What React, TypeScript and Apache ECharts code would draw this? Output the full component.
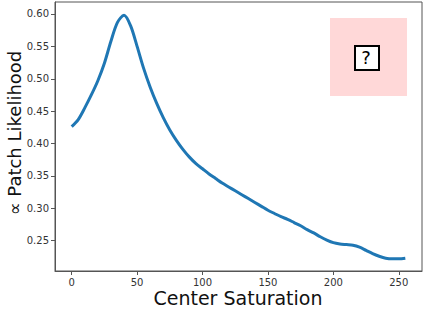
import React, { useEffect, useRef } from "react";
import * as echarts from "echarts";

const xValues = [0,5,10,15,20,25,30,35,40,45,50,55,60,65,70,75,80,85,90,95,100,105,110,115,120,125,130,135,140,145,150,155,160,165,170,175,180,185,190,195,200,205,210,215,220,225,230,235,240,245,250,255];
const likelihood = [0.426,0.437,0.455,0.475,0.497,0.524,0.558,0.587,0.598,0.582,0.550,0.516,0.487,0.462,0.440,0.421,0.405,0.391,0.379,0.369,0.361,0.353,0.346,0.339,0.333,0.327,0.321,0.315,0.309,0.303,0.297,0.292,0.287,0.283,0.278,0.273,0.267,0.262,0.256,0.251,0.247,0.245,0.244,0.243,0.240,0.235,0.230,0.226,0.223,0.222,0.222,0.223];
const xTicks = [0, 50, 100, 150, 200, 250];
const yTicks = [0.25, 0.30, 0.35, 0.40, 0.45, 0.50, 0.55, 0.60];
const xTitle = "Center Saturation";
const yTitle = "∝ Patch Likelihood";

export default function App() {
  const ref = useRef<HTMLDivElement>(null);
  useEffect(() => {
    const chart = echarts.init(ref.current!, null, { renderer: "svg" });
    const font = "DejaVu Sans";
    chart.setOption({
      animation: false,
      grid: { left: 55, right: 4, top: 2, bottom: 38, show: true, borderColor: "#555", borderWidth: 1, backgroundColor: "transparent", outerBoundsMode: "none", containLabel: false },
      xAxis: {
        type: "value",
        min: -12.75,
        max: 267.75,
        axisLine: { show: true, onZero: false, lineStyle: { color: "#555" } },
        axisTick: { show: true, customValues: xTicks, length: 4, lineStyle: { color: "#555" } },
        axisLabel: { customValues: xTicks, fontFamily: font, fontSize: 10, color: "#333", margin: 6 },
        splitLine: { show: false },
      },
      yAxis: {
        type: "value",
        min: 0.2032,
        max: 0.6185,
        axisLine: { show: true, onZero: false, lineStyle: { color: "#555" } },
        axisTick: { show: true, customValues: yTicks, length: 4, lineStyle: { color: "#555" } },
        axisLabel: { customValues: yTicks, fontFamily: font, fontSize: 10, color: "#333", margin: 6, formatter: (v: number) => v.toFixed(2) },
        splitLine: { show: false },
      },
      series: [
        {
          type: "line",
          data: xValues.map((x, i) => [x, likelihood[i]]),
          smooth: 0.3,
          showSymbol: false,
          lineStyle: { color: "#1f77b4", width: 3 },
        },
      ],
      graphic: [
        { type: "text", x: 238, y: 298, style: { text: xTitle, font: "19px 'DejaVu Sans'", fill: "#111", align: "center", verticalAlign: "middle" } },
        { type: "text", x: 14, y: 133, rotation: Math.PI / 2, style: { text: yTitle, font: "18px 'DejaVu Sans'", fill: "#111", align: "center", verticalAlign: "middle" } },
        { type: "rect", left: 330, top: 18, shape: { width: 77, height: 78 }, style: { fill: "#ffd8d8" } },
        { type: "rect", left: 354, top: 45, shape: { width: 24, height: 24 }, style: { fill: "#fff", stroke: "#000", lineWidth: 2 } },
        { type: "text", x: 366, y: 57, style: { text: "?", font: "18px 'DejaVu Sans'", fill: "#000", align: "center", verticalAlign: "middle" } },
      ],
    });
    return () => chart.dispose();
  }, []);
  return <div ref={ref} style={{ width: 426, height: 309, position: "absolute", left: 0, top: 0 }} />;
}
